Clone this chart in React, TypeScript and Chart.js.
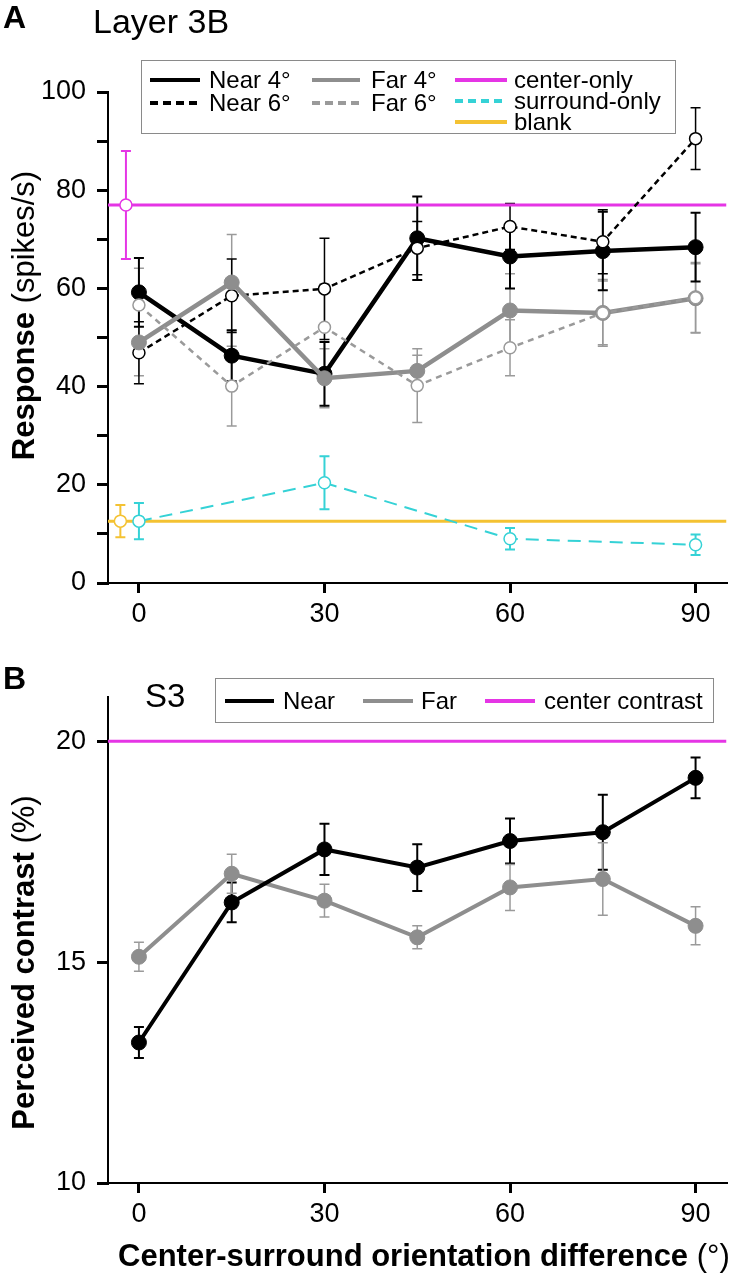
import React, { useEffect, useRef } from "react";
import { Chart, registerables } from "chart.js";

Chart.register(...registerables);

// ---------- DATA ----------
const angles = [0, 15, 30, 45, 60, 75, 90];

// Panel A (Layer 3B) responses, spikes/s
const near4A = [59.2, 46.3, 42.6, 70.2, 66.5, 67.6, 68.4];
const near4AErr = [7, 5.2, 6.5, 8.5, 6.5, 8, 7];
const near6A = [46.9, 58.5, 59.9, 68.2, 72.6, 69.5, 90.5];
const near6AErr = [6.3, 7.5, 10.3, 5.4, 4.7, 6.5, 6.3];
const far4A = [49, 61.2, 41.7, 43.2, 55.5, 55, 58];
const far4AErr = [6.8, 9.8, 6, 3.2, 7.5, 6.5, 7];
const far6A = [56.6, 40.1, 52.1, 40.2, 47.9, 55, 58.1];
const far6AErr = [7.5, 8.1, 8.8, 7.5, 5.7, 6.8, 7.2];

const surroundAngles = [0, 30, 60, 90];
const surroundA = [12.6, 20.4, 9.0, 7.8];
const surroundAErr = [3.7, 5.4, 2.2, 2.1];

const centerOnlyX = -2.1;
const centerOnly = 77;
const centerOnlyErr = 11;
const blankX = -3;
const blank = 12.6;
const blankErr = 3.3;

const yTicksA = [0, 10, 20, 30, 40, 50, 60, 70, 80, 90, 100];
const xTicks = [0, 30, 60, 90];

// Panel B (S3) perceived contrast, %
const nearB = [13.18, 16.35, 17.55, 17.14, 17.74, 17.94, 19.17];
const nearBErr = [0.35, 0.45, 0.58, 0.53, 0.51, 0.85, 0.46];
const farB = [15.12, 17.0, 16.39, 15.56, 16.69, 16.88, 15.82];
const farBErr = [0.33, 0.44, 0.37, 0.26, 0.52, 0.82, 0.43];
const centerContrast = 20;
const yTicksB = [10, 15, 20];

// ---------- STYLE ----------
const FONT = "'Liberation Sans', Arial, Helvetica, sans-serif";
const BLACK = "#000000";
const GRAY = "#8e8e8e";
const GRAY2 = "#9a9a9a";
const MAGENTA = "#e535e5";
const CYAN = "#35d2d6";
const YELLOW = "#f4c232";

const pts = (xs: number[], ys: number[]) => xs.map((x, i) => ({ x, y: ys[i] }));

const errorBarPlugin = {
  id: "errorBars",
  beforeDatasetsDraw(chart: any) {
    const { ctx, chartArea, scales } = chart;
    ctx.save();
    ctx.beginPath();
    ctx.rect(chartArea.left, chartArea.top - 30, chartArea.right - chartArea.left, chartArea.bottom - chartArea.top + 30);
    ctx.clip();
    chart.data.datasets.forEach((ds: any) => {
      if (!ds.errors) return;
      ctx.strokeStyle = ds.errColor;
      ctx.lineWidth = ds.errWidth || 1.5;
      ctx.setLineDash([]);
      const cap = 5;
      ds.data.forEach((p: any, i: number) => {
        const e = ds.errors[i];
        const x = scales.x.getPixelForValue(p.x);
        const y1 = scales.y.getPixelForValue(p.y + e);
        const y2 = scales.y.getPixelForValue(p.y - e);
        ctx.beginPath();
        ctx.moveTo(x, y1);
        ctx.lineTo(x, y2);
        ctx.moveTo(x - cap, y1);
        ctx.lineTo(x + cap, y1);
        ctx.moveTo(x - cap, y2);
        ctx.lineTo(x + cap, y2);
        ctx.stroke();
      });
    });
    ctx.restore();
  },
};

function axisX(heightPx: number) {
  return {
    type: "linear",
    min: -5,
    max: 95,
    afterBuildTicks: (s: any) => {
      s.ticks = xTicks.map((v) => ({ value: v }));
    },
    afterFit: (s: any) => {
      s.height = heightPx;
    },
    grid: { display: true, drawOnChartArea: false, drawTicks: true, tickLength: 10, lineWidth: 3, color: BLACK },
    border: { display: true, color: BLACK, width: 2 },
    ticks: { color: BLACK, font: { size: 27, family: FONT }, padding: 5, maxRotation: 0, autoSkip: false },
  };
}

function axisY(min: number, max: number, tickVals: number[], labelEvery: number) {
  return {
    type: "linear",
    min,
    max,
    afterBuildTicks: (s: any) => {
      s.ticks = tickVals.map((v) => ({ value: v }));
    },
    afterFit: (s: any) => {
      s.width = 108;
    },
    grid: { display: true, drawOnChartArea: false, drawTicks: true, tickLength: 11, lineWidth: 3, color: BLACK },
    border: { display: true, color: BLACK, width: 2 },
    ticks: {
      color: BLACK,
      font: { size: 27, family: FONT },
      padding: 11,
      autoSkip: false,
      callback: (v: any) => (Number(v) % labelEvery === 0 ? String(v) : ""),
    },
  };
}

const baseOptions = (scales: any, padding: any) => ({
  responsive: false,
  animation: false,
  events: [],
  layout: { padding },
  plugins: { legend: { display: false }, tooltip: { enabled: false }, title: { display: false } },
  scales,
});

function Line({ x, y, w, color, width, dash }: any) {
  const style: any = { position: "absolute", left: x, top: y - width / 2, width: w, height: width };
  if (dash) {
    style.background = `repeating-linear-gradient(to right, ${color} 0px, ${color} ${dash[0]}px, transparent ${dash[0]}px, transparent ${dash[0] + dash[1]}px)`;
  } else {
    style.background = color;
  }
  return <div style={style} />;
}

function Txt({ x, y, size, bold, children, anchorBaseline = true }: any) {
  const top = anchorBaseline ? y - size * 0.8465 : y - size / 2;
  return (
    <div
      style={{
        position: "absolute",
        left: x,
        top,
        fontSize: size,
        lineHeight: `${size}px`,
        fontWeight: bold ? "bold" : "normal",
        whiteSpace: "nowrap",
        color: BLACK,
      }}
    >
      {children}
    </div>
  );
}

function VLabel({ cx, cy, size, children }: any) {
  return (
    <div
      style={{
        position: "absolute",
        left: cx - 250,
        top: cy - size / 2,
        width: 500,
        height: size,
        lineHeight: `${size}px`,
        fontSize: size,
        textAlign: "center",
        transform: "rotate(-90deg)",
        whiteSpace: "nowrap",
        color: BLACK,
      }}
    >
      {children}
    </div>
  );
}

export default function App() {
  const refA = useRef<HTMLCanvasElement>(null);
  const refB = useRef<HTMLCanvasElement>(null);

  useEffect(() => {
    const chartA = new Chart(refA.current as HTMLCanvasElement, {
      type: "scatter",
      data: {
        datasets: [
          {
            label: "surround-only",
            data: pts(surroundAngles, surroundA),
            errors: surroundAErr,
            errColor: CYAN,
            errWidth: 2,
            showLine: true,
            borderColor: CYAN,
            borderWidth: 2,
            borderDash: [13, 8],
            pointRadius: 6,
            pointBackgroundColor: "#ffffff",
            pointBorderColor: CYAN,
            pointBorderWidth: 1.5,
          },
          {
            label: "Far 6°",
            data: pts(angles, far6A),
            errors: far6AErr,
            errColor: GRAY2,
            errWidth: 1.5,
            showLine: true,
            borderColor: GRAY2,
            borderWidth: 2.5,
            borderDash: [6, 5],
            pointRadius: 6,
            pointBackgroundColor: "#ffffff",
            pointBorderColor: GRAY2,
            pointBorderWidth: 1.5,
          },
          {
            label: "Far 4°",
            data: pts(angles, far4A),
            errors: far4AErr,
            errColor: GRAY2,
            errWidth: 1.5,
            showLine: true,
            borderColor: GRAY,
            borderWidth: 4.5,
            pointRadius: 7.5,
            pointBackgroundColor: GRAY,
            pointBorderColor: GRAY,
            pointBorderWidth: 1,
          },
          {
            label: "Near 6°",
            data: pts(angles, near6A),
            errors: near6AErr,
            errColor: BLACK,
            errWidth: 1.5,
            showLine: true,
            borderColor: BLACK,
            borderWidth: 2.5,
            borderDash: [6, 4],
            pointRadius: 6,
            pointBackgroundColor: "#ffffff",
            pointBorderColor: BLACK,
            pointBorderWidth: 1.5,
          },
          {
            label: "Near 4°",
            data: pts(angles, near4A),
            errors: near4AErr,
            errColor: BLACK,
            errWidth: 2,
            showLine: true,
            borderColor: BLACK,
            borderWidth: 4.5,
            pointRadius: 7.5,
            pointBackgroundColor: BLACK,
            pointBorderColor: BLACK,
            pointBorderWidth: 1,
          },
          {
            label: "center-only point",
            data: [{ x: centerOnlyX, y: centerOnly }],
            errors: [centerOnlyErr],
            errColor: MAGENTA,
            errWidth: 2,
            showLine: false,
            pointRadius: 6,
            pointBackgroundColor: "#ffffff",
            pointBorderColor: MAGENTA,
            pointBorderWidth: 1.5,
          },
          {
            label: "blank point",
            data: [{ x: blankX, y: blank }],
            errors: [blankErr],
            errColor: YELLOW,
            errWidth: 2,
            showLine: false,
            pointRadius: 6,
            pointBackgroundColor: "#ffffff",
            pointBorderColor: YELLOW,
            pointBorderWidth: 1.5,
          },
          {
            label: "center-only",
            data: [{ x: -5, y: centerOnly }, { x: 95, y: centerOnly }],
            showLine: true,
            borderColor: MAGENTA,
            borderWidth: 3,
            pointRadius: 0,
          },
          {
            label: "blank",
            data: [{ x: -5, y: blank }, { x: 95, y: blank }],
            showLine: true,
            borderColor: YELLOW,
            borderWidth: 3,
            pointRadius: 0,
          },
        ] as any,
      },
      options: baseOptions(
        { x: axisX(57), y: axisY(0, 100, yTicksA, 20) },
        { top: 92, right: 6, left: 0, bottom: 0 }
      ) as any,
      plugins: [errorBarPlugin],
    });

    const chartB = new Chart(refB.current as HTMLCanvasElement, {
      type: "scatter",
      data: {
        datasets: [
          {
            label: "Near",
            data: pts(angles, nearB),
            errors: nearBErr,
            errColor: BLACK,
            errWidth: 2,
            showLine: true,
            borderColor: BLACK,
            borderWidth: 4,
            pointRadius: 7.5,
            pointBackgroundColor: BLACK,
            pointBorderColor: BLACK,
            pointBorderWidth: 1,
          },
          {
            label: "Far",
            data: pts(angles, farB),
            errors: farBErr,
            errColor: GRAY2,
            errWidth: 1.5,
            showLine: true,
            borderColor: GRAY,
            borderWidth: 4,
            pointRadius: 7.5,
            pointBackgroundColor: GRAY,
            pointBorderColor: GRAY,
            pointBorderWidth: 1,
          },
          {
            label: "center contrast",
            data: [{ x: -5, y: centerContrast }, { x: 95, y: centerContrast }],
            showLine: true,
            borderColor: MAGENTA,
            borderWidth: 3,
            pointRadius: 0,
          },
        ] as any,
      },
      options: baseOptions(
        { x: axisX(97), y: axisY(10, 21, yTicksB, 5) },
        { top: 57, right: 7, left: 0, bottom: 0 }
      ) as any,
      plugins: [errorBarPlugin],
    });

    return () => {
      chartA.destroy();
      chartB.destroy();
    };
  }, []);

  return (
    <div
      style={{
        position: "absolute",
        left: 0,
        top: 0,
        width: 735,
        height: 1280,
        background: "#ffffff",
        fontFamily: FONT,
        overflow: "hidden",
      }}
    >
      <canvas ref={refA} width={735} height={640} style={{ position: "absolute", left: 0, top: 0 }} />
      <canvas ref={refB} width={735} height={640} style={{ position: "absolute", left: 0, top: 640 }} />

      {/* Panel A titles */}
      <Txt x={3} y={28} size={32} bold>A</Txt>
      <Txt x={93} y={33} size={34}>Layer 3B</Txt>

      {/* Legend A */}
      <div style={{ position: "absolute", left: 141, top: 60, width: 535, height: 74, border: "1.5px solid #8a8a8a", boxSizing: "border-box", background: "#fff" }} />
      <Line x={150} y={80} w={50} color={BLACK} width={4} />
      <Txt x={209} y={80} size={24} anchorBaseline={false}>Near 4°</Txt>
      <Line x={150} y={103} w={50} color={BLACK} width={4} dash={[8, 5]} />
      <Txt x={209} y={103} size={24} anchorBaseline={false}>Near 6°</Txt>
      <Line x={312} y={80} w={48} color={GRAY} width={4} />
      <Txt x={371} y={80} size={24} anchorBaseline={false}>Far 4°</Txt>
      <Line x={312} y={103} w={48} color={GRAY2} width={4} dash={[8, 5]} />
      <Txt x={371} y={103} size={24} anchorBaseline={false}>Far 6°</Txt>
      <Line x={455} y={80} w={52} color={MAGENTA} width={4} />
      <Txt x={514} y={80} size={24} anchorBaseline={false}>center-only</Txt>
      <Line x={455} y={101} w={52} color={CYAN} width={4} dash={[8, 5]} />
      <Txt x={514} y={101} size={24} anchorBaseline={false}>surround-only</Txt>
      <Line x={455} y={122} w={52} color={YELLOW} width={4} />
      <Txt x={514} y={122} size={24} anchorBaseline={false}>blank</Txt>

      <VLabel cx={23} cy={315} size={31}>
        <b>Response</b> (spikes/s)
      </VLabel>

      {/* Panel B titles */}
      <Txt x={3} y={689} size={32} bold>B</Txt>
      <Txt x={145} y={707} size={33}>S3</Txt>

      {/* Legend B */}
      <div style={{ position: "absolute", left: 215, top: 678, width: 499, height: 45, border: "1.5px solid #8a8a8a", boxSizing: "border-box", background: "#fff" }} />
      <Line x={225} y={701} w={49} color={BLACK} width={4} />
      <Txt x={283} y={701} size={24} anchorBaseline={false}>Near</Txt>
      <Line x={363} y={701} w={50} color={GRAY} width={4} />
      <Txt x={421} y={701} size={24} anchorBaseline={false}>Far</Txt>
      <Line x={485} y={701} w={50} color={MAGENTA} width={4} />
      <Txt x={544} y={701} size={24} anchorBaseline={false}>center contrast</Txt>

      <VLabel cx={23} cy={962} size={31}>
        <b>Perceived contrast</b> (%)
      </VLabel>

      <Txt x={118} y={1266} size={31}>
        <b>Center-surround orientation difference</b> (°)
      </Txt>
    </div>
  );
}
